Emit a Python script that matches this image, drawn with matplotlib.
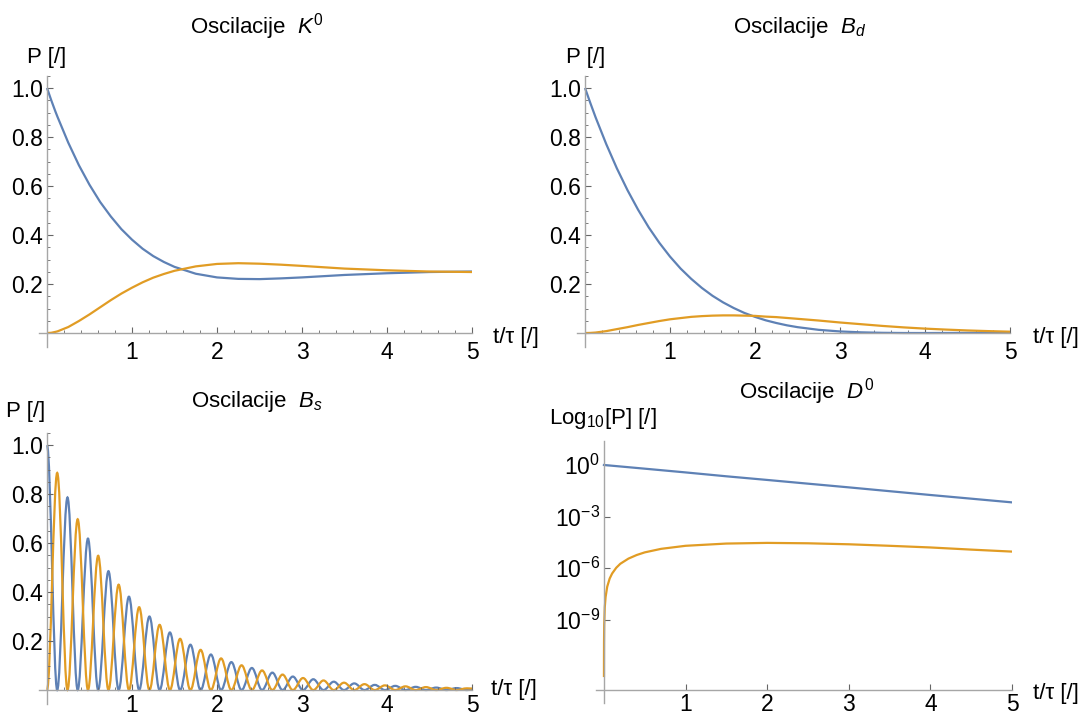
import numpy as np
import matplotlib
matplotlib.use("Agg")
import matplotlib.pyplot as plt
from matplotlib.path import Path
from matplotlib.patches import PathPatch
from matplotlib.ticker import FixedLocator, NullLocator

plt.rcParams['font.family'] = ['Liberation Sans', 'DejaVu Sans']
plt.rcParams['mathtext.fontset'] = 'custom'
plt.rcParams['mathtext.rm'] = 'Liberation Sans'
plt.rcParams['mathtext.it'] = 'Liberation Sans:italic'
plt.rcParams['mathtext.bf'] = 'Liberation Sans:bold'

BLUE = '#5E81B5'
ORANGE = '#E19C24'
FS = 16
TICK_FS = 16.5

# K0 oscillations
k_t = [0, 0.05, 0.1, 0.125, 0.25, 0.375, 0.5, 0.625, 0.75, 0.875, 1.0, 1.125, 1.25, 1.375, 1.5,
       1.75, 2.0, 2.25, 2.5, 2.75, 3.0, 3.5, 4.0, 4.5, 5.0]
k_same = [1.0, 0.950, 0.903, 0.881, 0.777, 0.685, 0.605, 0.535, 0.476, 0.424, 0.381, 0.344, 0.314, 0.290,
          0.270, 0.242, 0.227, 0.221, 0.220, 0.223, 0.227, 0.237, 0.244, 0.249, 0.251]
k_mixed = [0.0, 0.001, 0.0048, 0.007, 0.0245, 0.049, 0.076, 0.105, 0.134, 0.161, 0.185, 0.207, 0.226, 0.241,
           0.254, 0.272, 0.282, 0.285, 0.283, 0.279, 0.274, 0.263, 0.256, 0.251, 0.249]

# Bd oscillations
bd_t = [0, 0.0625, 0.125, 0.25, 0.375, 0.5, 0.625, 0.75, 0.875, 1.0, 1.125, 1.25, 1.375, 1.5, 1.625,
        1.75, 1.875, 2.0, 2.125, 2.25, 2.375, 2.5, 2.75, 3.0, 3.25, 3.5, 3.75, 4.0, 4.25, 4.5, 4.75, 5.0]
bd_same = [1.0, 0.939, 0.880, 0.771, 0.672, 0.583, 0.503, 0.431, 0.368, 0.312, 0.263, 0.221, 0.184, 0.152,
           0.125, 0.102, 0.082, 0.066, 0.052, 0.041, 0.0315, 0.024, 0.013, 0.0065, 0.0028, 0.0009, 0.0001,
           0.0, 0.0002, 0.0006, 0.0009, 0.0012]
bd_mixed = [0.0, 0.0005, 0.002, 0.0078, 0.016, 0.024, 0.033, 0.041, 0.049, 0.056, 0.061, 0.066, 0.069, 0.071,
            0.072, 0.072, 0.071, 0.070, 0.067, 0.065, 0.0615, 0.058, 0.051, 0.043, 0.036, 0.029, 0.023,
            0.018, 0.014, 0.0105, 0.0078, 0.0055]

# Bs oscillations: peak positions and heights of each curve
bs_peak_t_same = [0.000, 0.241, 0.482, 0.723, 0.964, 1.205, 1.446, 1.687, 1.928, 2.169, 2.410,
                  2.651, 2.892, 3.133, 3.374, 3.615, 3.856, 4.097, 4.338, 4.579, 4.820]
bs_peak_same = [1.000, 0.786, 0.618, 0.485, 0.381, 0.300, 0.235, 0.185, 0.145, 0.114, 0.090,
                0.071, 0.055, 0.044, 0.034, 0.027, 0.021, 0.017, 0.013, 0.010, 0.008]
bs_peak_t_mixed = [0.120, 0.361, 0.602, 0.843, 1.084, 1.325, 1.566, 1.807, 2.048, 2.289, 2.530,
                   2.771, 3.012, 3.253, 3.494, 3.735, 3.976, 4.217, 4.458, 4.699, 4.940]
bs_peak_mixed = [0.886, 0.697, 0.548, 0.430, 0.338, 0.266, 0.209, 0.164, 0.129, 0.101, 0.080,
                 0.063, 0.049, 0.039, 0.030, 0.024, 0.019, 0.015, 0.012, 0.009, 0.007]
bs_end_same = 0.003
bs_end_mixed = 0.006

# D0 oscillations (log scale)
d_t = [0.0, 0.5, 1.0, 1.5, 2.0, 2.5, 3.0, 3.5, 4.0, 4.5, 5.0]
d_same = [1.0, 0.61, 0.37, 0.22, 0.135, 0.082, 0.050, 0.030, 0.018, 0.011, 0.0067]
d_t_mixed = [0.0001, 0.0003, 0.001, 0.003, 0.01, 0.02, 0.04, 0.07, 0.1, 0.15, 0.2, 0.3, 0.4, 0.5,
             0.7, 1.0, 1.5, 2.0, 2.5, 3.0, 3.5, 4.0, 4.5, 5.0]
d_mixed = [5.4e-13, 4.9e-12, 5.4e-11, 4.9e-10, 5.4e-9, 2.1e-8, 8.4e-8, 2.5e-7, 4.9e-7, 1.05e-6, 1.8e-6,
           3.6e-6, 5.8e-6, 8.3e-6, 1.33e-5, 2.0e-5, 2.7e-5, 2.95e-5, 2.8e-5, 2.45e-5, 2.0e-5, 1.6e-5,
           1.2e-5, 9.2e-6]

W, H = 1078, 718
fig = plt.figure(figsize=(W / 100, H / 100), dpi=100)


def add_axes(left, top, right, bottom):
    return fig.add_axes([left / W, 1 - bottom / H, (right - left) / W, (bottom - top) / H])


def style(ax, x0, xpad):
    for s in ['top', 'right']:
        ax.spines[s].set_visible(False)
    ax.spines['left'].set_position(('data', 0))
    ax.spines['bottom'].set_position(('data', x0))
    for s in ['left', 'bottom']:
        ax.spines[s].set_color('#a6a6a6')
        ax.spines[s].set_linewidth(1.0)
    ax.tick_params(which='both', direction='in', color='#666666', labelsize=TICK_FS, labelcolor='black')
    ax.tick_params(which='major', length=4.5, width=0.8)
    ax.tick_params(which='minor', length=2.5, width=0.6)
    ax.tick_params(axis='x', pad=xpad)
    ax.tick_params(axis='y', pad=3)
    ax.set_xlim(-0.1, 5.0)
    ax.xaxis.set_major_locator(FixedLocator([1, 2, 3, 4, 5]))
    ax.set_facecolor('none')


def linear_panel(ax, xpad):
    style(ax, 0, xpad)
    ax.set_ylim(-0.057, 1.05)
    ax.xaxis.set_minor_locator(FixedLocator([i * 0.2 for i in range(26) if i % 5]))
    ax.yaxis.set_major_locator(FixedLocator([0.2, 0.4, 0.6, 0.8, 1.0]))
    ax.yaxis.set_minor_locator(FixedLocator([i * 0.05 for i in range(22) if i % 4]))
    ax.yaxis.set_major_formatter(lambda v, p: f"{v:.1f}")


def lobes(ts, vs):
    # smooth half-oscillations between successive extrema (horizontal tangents)
    verts = [(ts[0], vs[0])]
    codes = [Path.MOVETO]
    k = 0.363
    for i in range(1, len(ts)):
        t0, v0, t1, v1 = ts[i - 1], vs[i - 1], ts[i], vs[i]
        d = t1 - t0
        verts += [(t0 + k * d, v0), (t1 - k * d, v1), (t1, v1)]
        codes += [Path.CURVE4] * 3
    return Path(verts, codes)


lw = 1.6

# --- K0
ax1 = add_axes(38.5, 75.75, 472, 347)
linear_panel(ax1, 6)
ax1.plot(k_t, k_same, color=BLUE, lw=lw, solid_capstyle='butt')
ax1.plot(k_t, k_mixed, color=ORANGE, lw=lw, solid_capstyle='butt')

# --- Bd
ax2 = add_axes(576.5, 75.75, 1010, 347)
linear_panel(ax2, 6)
ax2.plot(bd_t, bd_same, color=BLUE, lw=lw, solid_capstyle='butt')
ax2.plot(bd_t, bd_mixed, color=ORANGE, lw=lw, solid_capstyle='butt')

# --- Bs
ax3 = add_axes(38.5, 432.75, 472, 704)
linear_panel(ax3, 2.5)
same_nodes = sorted(list(zip(bs_peak_t_same, bs_peak_same)) + [(t, 0.0) for t in bs_peak_t_mixed])
mixed_nodes = sorted(list(zip(bs_peak_t_mixed, bs_peak_mixed)) + [(t, 0.0) for t in bs_peak_t_same])
same_nodes.append((5.0, bs_end_same))
mixed_nodes.append((5.0, bs_end_mixed))
for nodes, c in [(same_nodes, BLUE), (mixed_nodes, ORANGE)]:
    ts, vs = zip(*nodes)
    ax3.add_patch(PathPatch(lobes(ts, vs), fill=False, edgecolor=c, lw=lw))

# --- D0
ax4 = add_axes(595.8, 441, 1012, 703)
ax4.set_yscale('log')
ax4.set_ylim(10 ** -13.84, 10 ** 1.395)
style(ax4, 10 ** -13.08, 2.5)
ax4.xaxis.set_minor_locator(NullLocator())
ax4.yaxis.set_major_locator(FixedLocator([1, 1e-3, 1e-6, 1e-9]))
ax4.yaxis.set_minor_locator(NullLocator())
ax4.yaxis.set_major_formatter(lambda v, p: f"$10^{{{int(round(np.log10(v)))}}}$")
ax4.plot(d_t, d_same, color=BLUE, lw=lw)
ax4.plot(d_t_mixed, d_mixed, color=ORANGE, lw=lw)


# --- texts
def ftext(x, y, s, **kw):
    fig.text(x / W, 1 - y / H, s, fontsize=FS, color='black', va='center', **kw)


ftext(257, 27, r'Oscilacije  $K^0$', ha='center')
ftext(800, 27, r'Oscilacije  $B_d$', ha='center')
ftext(257, 401, r'Oscilacije  $B_s$', ha='center')
ftext(807, 392, r'Oscilacije  $D^0$', ha='center')

ftext(27, 57, 'P [/]', ha='left')
ftext(566, 57, 'P [/]', ha='left')
ftext(6, 412, 'P [/]', ha='left')
ftext(549, 419, r'Log$_{10}$[P] [/]', ha='left')

ftext(493, 337, 't/τ [/]', ha='left')
ftext(1033, 337, 't/τ [/]', ha='left')
ftext(491, 689, 't/τ [/]', ha='left')
ftext(1033, 693, 't/τ [/]', ha='left')

fig.savefig('out.png', dpi=100)
